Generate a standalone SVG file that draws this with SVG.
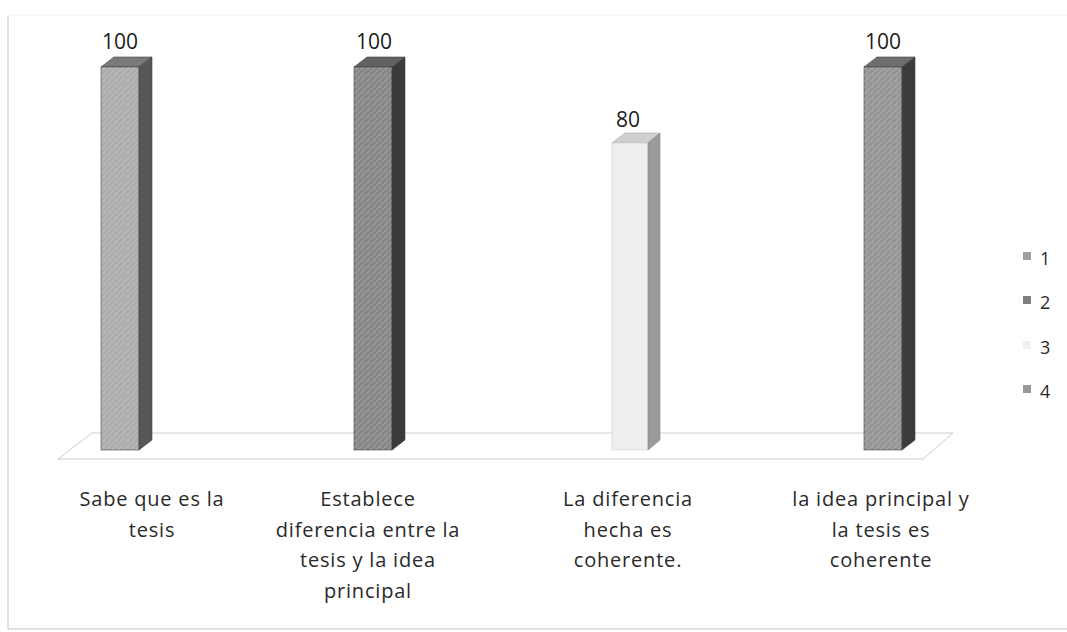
<svg xmlns="http://www.w3.org/2000/svg" width="1067" height="632" viewBox="0 0 1067 632">
<defs>
<pattern id="tex" width="6" height="6" patternUnits="userSpaceOnUse">
<rect width="6" height="6" fill="none"/>
<path d="M0 3h3M3 0v2M4 5h2" stroke="#ffffff" stroke-opacity="0.25" stroke-width="1"/>
</pattern>
</defs>
<style>
.lbl{font-family:"Open Sans","Liberation Sans",sans-serif;font-size:20px;letter-spacing:0.8px;fill:#2a2a2a;text-anchor:middle}
.val{font-family:"Open Sans","Liberation Sans",sans-serif;font-size:21px;fill:#1a1a1a;text-anchor:middle}
.leg{font-family:"Open Sans","Liberation Sans",sans-serif;font-size:18px;fill:#2a2a2a}
.floor{stroke:#cccccc;stroke-width:1;fill:none}
.edge{stroke:#444;stroke-width:0.6}
</style>
<rect x="0" y="0" width="1067" height="632" fill="#ffffff"/>
<g id="frame">
<path d="M8 16V629H1067" stroke="#d8d8d8" stroke-width="1.5" fill="none"/>
<path d="M8 15H1067" stroke="#f0f0f0" stroke-width="1" fill="none"/>
</g>
<g id="floor">
<path class="floor" d="M92 433H953L923 459H58Z"/>
</g>
<g id="bar1">
<path d="M101 67L114 57H152L139 67Z" fill="#7a7a7a" class="edge"/>
<rect x="101" y="67" width="38" height="383" fill="#adadad" class="edge"/>
<rect x="101" y="67" width="38" height="383" fill="url(#tex)"/>
<path d="M139 67L152 57V440L139 450Z" fill="#575757" class="edge"/>
<text class="val" x="120" y="49">100</text>
</g>
<g id="bar2">
<path d="M354 67L367 57H405L392 67Z" fill="#626262" class="edge"/>
<rect x="354" y="67" width="38" height="383" fill="#878787" class="edge"/>
<rect x="354" y="67" width="38" height="383" fill="url(#tex)"/>
<path d="M392 67L405 57V440L392 450Z" fill="#3a3a3a" class="edge"/>
<text class="val" x="374" y="49">100</text>
</g>
<g id="bar3">
<path d="M612 143L625 133H660L648 143Z" fill="#d0d0d0" stroke="#aaa" stroke-width="0.6"/>
<rect x="612" y="143" width="36" height="307" fill="#eeeeee" stroke="#d0d0d0" stroke-width="0.6"/>
<path d="M648 143L660 133V440L648 450Z" fill="#9a9a9a" stroke="#888" stroke-width="0.6"/>
<text class="val" x="628" y="127">80</text>
</g>
<g id="bar4">
<path d="M864 67L877 57H915L902 67Z" fill="#6e6e6e" class="edge"/>
<rect x="864" y="67" width="38" height="383" fill="#959595" class="edge"/>
<rect x="864" y="67" width="38" height="383" fill="url(#tex)"/>
<path d="M902 67L915 57V440L902 450Z" fill="#3c3c3c" class="edge"/>
<text class="val" x="883" y="49">100</text>
</g>
<g id="categories">
<text class="lbl" x="152" y="506">Sabe que es la</text>
<text class="lbl" x="152" y="537">tesis</text>
<text class="lbl" x="368" y="506">Establece</text>
<text class="lbl" x="368" y="537">diferencia entre la</text>
<text class="lbl" x="368" y="567">tesis y la idea</text>
<text class="lbl" x="368" y="598">principal</text>
<text class="lbl" x="628" y="506">La diferencia</text>
<text class="lbl" x="628" y="537">hecha es</text>
<text class="lbl" x="628" y="567">coherente.</text>
<text class="lbl" x="881" y="506">la idea principal y</text>
<text class="lbl" x="881" y="537">la tesis es</text>
<text class="lbl" x="881" y="567">coherente</text>
</g>
<g id="legend">
<rect x="1023" y="252" width="8" height="8" fill="#a0a0a0"/>
<text class="leg" x="1040" y="265">1</text>
<rect x="1023" y="296" width="8" height="8" fill="#808080"/>
<text class="leg" x="1040" y="309">2</text>
<rect x="1023" y="341" width="8" height="8" fill="#f0f0f0"/>
<text class="leg" x="1040" y="354">3</text>
<rect x="1023" y="385" width="8" height="8" fill="#999999"/>
<text class="leg" x="1040" y="398">4</text>
</g>
</svg>
